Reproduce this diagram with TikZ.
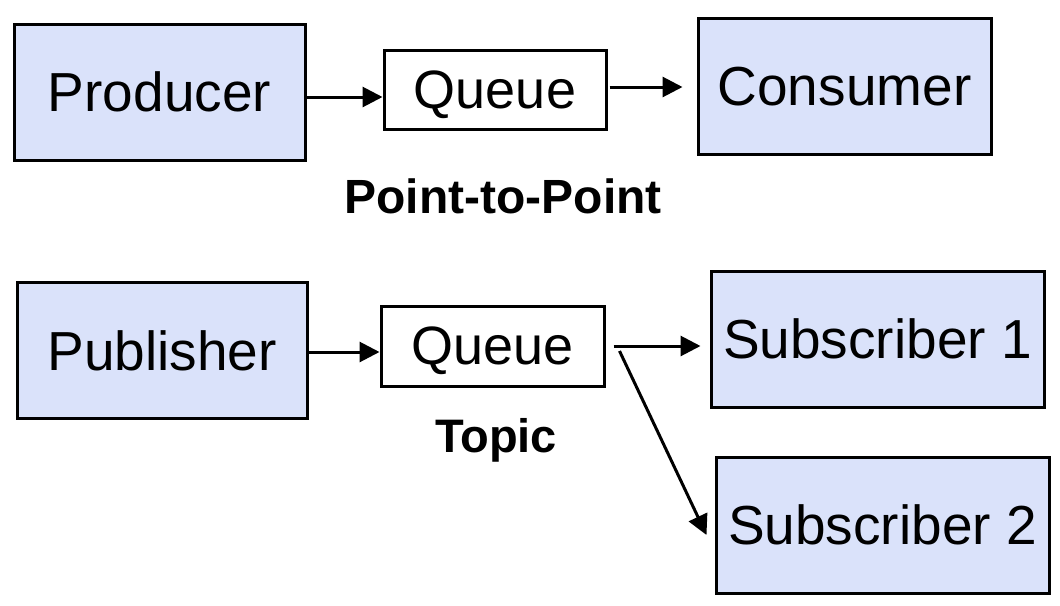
\documentclass[tikz,border=0pt]{standalone}
\usepackage{fontspec}
\setmainfont{Liberation Sans}
\usetikzlibrary{arrows.meta,calc}
\definecolor{boxblue}{RGB}{218,226,250}
\begin{document}
\begin{tikzpicture}[x=1pt,y=-1pt,
  bluebox/.style={draw=black,line width=3pt,fill=boxblue,rectangle,inner sep=0pt,
    minimum height=136pt,text depth=0pt,font=\fontsize{55}{60}\selectfont},
  queuebox/.style={draw=black,line width=3pt,fill=white,rectangle,inner sep=0pt,
    minimum width=222pt,minimum height=79pt,text depth=0pt,font=\fontsize{54}{60}\selectfont},
  caption/.style={font=\fontsize{47}{52}\selectfont\bfseries,inner sep=0pt},
  conn/.style={line width=3pt,-{Triangle[length=20pt,width=20pt]}}]
\useasboundingbox (0,0) rectangle (1060,605);
\node[bluebox,minimum width=291pt] (prod) at (159.5,92) {Producer};
\node[queuebox] (q1) at (495,89.5) {Queue};
\node[bluebox,minimum width=293pt] (cons) at (844.5,86) {Consumer};
\node[caption,font=\fontsize{48}{52}\selectfont\bfseries] (ptp) at (503,196) {Point-to-Point};
\node[bluebox,minimum width=290pt] (pub) at (162,350.5) {Publisher};
\node[queuebox,minimum width=223pt,minimum height=80pt] (q2) at (492.5,346) {Queue};
\node[caption] (topic) at (496,440) {Topic};
\node[bluebox,minimum width=333pt] (sub1) at (877.5,339) {Subscriber 1};
\node[bluebox,minimum width=333pt] (sub2) at (882.5,525) {Subscriber 2};
\draw[conn] ($(prod.east)+(0,5)$) -- ($(q1.west |- prod.east)+(0,5)$);
\draw[conn] ($(q1.east)+(2,-2.5)$) -- ($(cons.west |- q1.east)+(-14,-2.5)$);
\draw[conn] ($(pub.east)+(0,1.5)$) -- ($(q2.west |- pub.east)+(0,1.5)$);
\draw[conn] ($(q2.east)+(8,0)$) -- ($(sub1.west |- q2.east)+(-9,0)$);
\draw[conn] ($(q2.east)+(14,5)$) -- ($(sub2.west)+(-8,10)$);
\end{tikzpicture}
\end{document}
